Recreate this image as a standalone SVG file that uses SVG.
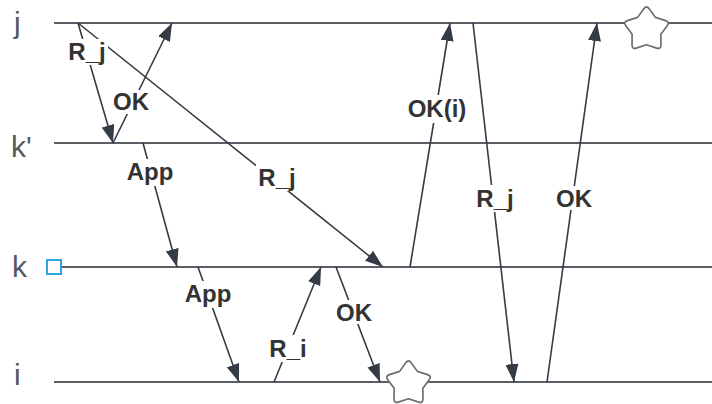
<svg xmlns="http://www.w3.org/2000/svg" width="712" height="404" viewBox="0 0 712 404">
<style>
.lane{stroke:#5a5f66;stroke-width:2;fill:none}
.lname{font-family:"Liberation Sans",Arial,sans-serif;font-size:30px;fill:#555a60}
.arr{stroke:#343b45;stroke-width:1.6;fill:none;marker-end:url(#ah)}
.lbl{font-family:"Liberation Sans",Arial,sans-serif;font-size:24px;font-weight:bold;fill:#333;text-anchor:middle}
.bg{fill:#fff}
.star{fill:#fff;stroke:#6a6e74;stroke-width:1.5;stroke-linejoin:round}
</style>
<defs>
<marker id="ah" viewBox="0 0 18 13" refX="18" refY="6.5" markerWidth="18" markerHeight="13" markerUnits="userSpaceOnUse" orient="auto">
<path d="M0,0 L18,6.5 L0,13 Z" fill="#343b45"/>
</marker>
<path id="starshape" d="M -2.38,-18.68 Q 0,-22 2.38,-18.68 L 7.94,-10.92 L 17.03,-8.04 Q 20.92,-6.80 18.50,-3.51 L 12.84,4.17 L 12.90,13.71 Q 12.93,17.80 9.05,16.51 L 0,13.5 L -9.05,16.51 Q -12.93,17.80 -12.90,13.71 L -12.84,4.17 L -18.50,-3.51 Q -20.92,-6.80 -17.03,-8.04 L -7.94,-10.92 Z"/>
</defs>
<rect width="712" height="404" fill="#fff"/>
<g id="lane-j"><line class="lane" x1="54" y1="23" x2="712" y2="23"/><text class="lname" x="14" y="33">j</text></g>
<g id="lane-kp"><line class="lane" x1="54" y1="143" x2="712" y2="143"/><text class="lname" x="11" y="157">k'</text></g>
<g id="lane-k"><line class="lane" x1="62" y1="267" x2="712" y2="267"/><text class="lname" x="12" y="277">k</text><rect x="47" y="260" width="14" height="14" fill="#fff" stroke="#2aa6e0" stroke-width="2"/></g>
<g id="lane-i"><line class="lane" x1="54" y1="382" x2="712" y2="382"/><text class="lname" x="14" y="385">i</text></g>
<g id="connectors">
<line class="arr" x1="78" y1="23" x2="113" y2="143"/>
<line class="arr" x1="113" y1="143" x2="172" y2="23"/>
<line class="arr" x1="78" y1="23" x2="383" y2="267"/>
<line class="arr" x1="143" y1="143" x2="177" y2="267"/>
<line class="arr" x1="198" y1="267" x2="239" y2="382"/>
<line class="arr" x1="274" y1="382" x2="321" y2="267"/>
<line class="arr" x1="336" y1="267" x2="380" y2="382"/>
<line class="arr" x1="410" y1="267" x2="450" y2="23"/>
<line class="arr" x1="473" y1="23" x2="514" y2="382"/>
<line class="arr" x1="547" y1="382" x2="597" y2="23"/>
</g>
<g id="labels">
<rect class="bg" x="66" y="39" width="42" height="26"/><text class="lbl" x="87" y="60">R_j</text>
<rect class="bg" x="110" y="90" width="42" height="24"/><text class="lbl" x="131" y="110">OK</text>
<rect class="bg" x="256" y="164" width="42" height="27"/><text class="lbl" x="277" y="186">R_j</text>
<rect class="bg" x="124" y="159" width="53" height="27"/><text class="lbl" x="150" y="180">App</text>
<rect class="bg" x="181" y="281" width="54" height="27"/><text class="lbl" x="208" y="302">App</text>
<rect class="bg" x="266" y="335" width="44" height="27"/><text class="lbl" x="288" y="357">R_i</text>
<rect class="bg" x="333" y="300" width="42" height="24"/><text class="lbl" x="354" y="321">OK</text>
<rect class="bg" x="403" y="95" width="68" height="28"/><text class="lbl" x="437" y="117">OK(i)</text>
<rect class="bg" x="474" y="185" width="42" height="27"/><text class="lbl" x="495" y="207">R_j</text>
<rect class="bg" x="553" y="186" width="42" height="24"/><text class="lbl" x="574" y="207">OK</text>
</g>
<g id="star-i"><use href="#starshape" class="star" transform="translate(408.5,383.6) scale(1.12)"/></g>
<g id="star-j"><use href="#starshape" class="star" transform="translate(646.5,29.6) scale(1.12)"/></g>
</svg>
